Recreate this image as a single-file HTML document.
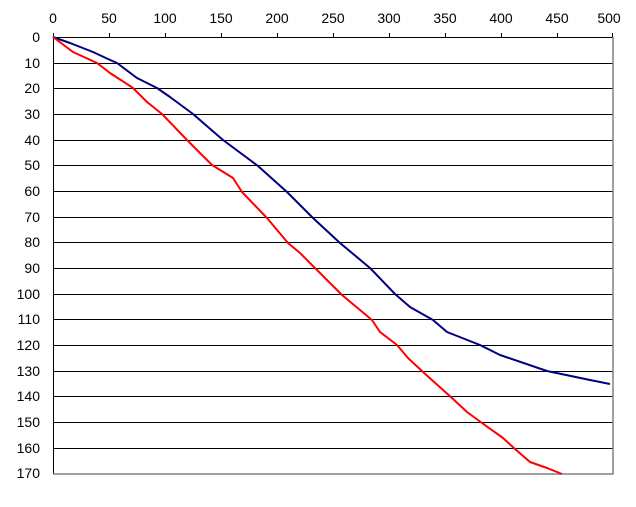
<!DOCTYPE html>
<html><head><style>body{margin:0;background:#fff}</style></head><body>
<svg width="636" height="502" xmlns="http://www.w3.org/2000/svg" font-family="Liberation Sans, Arial, sans-serif" font-size="14">
<rect width="636" height="502" fill="#fff"/>
<g stroke="#000" stroke-width="1">
<line x1="53" y1="37.5" x2="613" y2="37.5"/>
<line x1="53" y1="63.5" x2="613" y2="63.5"/>
<line x1="53" y1="88.5" x2="613" y2="88.5"/>
<line x1="53" y1="114.5" x2="613" y2="114.5"/>
<line x1="53" y1="140.5" x2="613" y2="140.5"/>
<line x1="53" y1="165.5" x2="613" y2="165.5"/>
<line x1="53" y1="191.5" x2="613" y2="191.5"/>
<line x1="53" y1="217.5" x2="613" y2="217.5"/>
<line x1="53" y1="242.5" x2="613" y2="242.5"/>
<line x1="53" y1="268.5" x2="613" y2="268.5"/>
<line x1="53" y1="294.5" x2="613" y2="294.5"/>
<line x1="53" y1="319.5" x2="613" y2="319.5"/>
<line x1="53" y1="345.5" x2="613" y2="345.5"/>
<line x1="53" y1="371.5" x2="613" y2="371.5"/>
<line x1="53" y1="396.5" x2="613" y2="396.5"/>
<line x1="53" y1="422.5" x2="613" y2="422.5"/>
<line x1="53" y1="448.5" x2="613" y2="448.5"/>
<line x1="53.5" y1="33" x2="53.5" y2="474"/>
</g>
<g stroke="#000">
<line x1="109.5" y1="33" x2="109.5" y2="37"/><line x1="165.5" y1="33" x2="165.5" y2="37"/><line x1="221.5" y1="33" x2="221.5" y2="37"/><line x1="277.5" y1="33" x2="277.5" y2="37"/><line x1="333.5" y1="33" x2="333.5" y2="37"/><line x1="389.5" y1="33" x2="389.5" y2="37"/><line x1="445.5" y1="33" x2="445.5" y2="37"/><line x1="501.5" y1="33" x2="501.5" y2="37"/><line x1="557.5" y1="33" x2="557.5" y2="37"/><line x1="612.5" y1="33" x2="612.5" y2="37"/>
</g>
<polyline points="53,474 613,474 613,37" fill="none" stroke="#808080" stroke-width="1.5"/>
<g text-anchor="middle">
<text x="53" y="23">0</text><text x="109" y="23">50</text><text x="165" y="23">100</text><text x="221" y="23">150</text><text x="277" y="23">200</text><text x="333" y="23">250</text><text x="389" y="23">300</text><text x="445" y="23">350</text><text x="501" y="23">400</text><text x="557" y="23">450</text><text x="609" y="23">500</text>
</g>
<g text-anchor="end">
<text x="40" y="42">0</text><text x="40" y="68">10</text><text x="40" y="93">20</text><text x="40" y="119">30</text><text x="40" y="145">40</text><text x="40" y="170">50</text><text x="40" y="196">60</text><text x="40" y="222">70</text><text x="40" y="247">80</text><text x="40" y="273">90</text><text x="40" y="299">100</text><text x="40" y="324">110</text><text x="40" y="350">120</text><text x="40" y="376">130</text><text x="40" y="401">140</text><text x="40" y="427">150</text><text x="40" y="453">160</text><text x="40" y="478">170</text>
</g>
<polyline fill="none" stroke="#000080" stroke-width="2" stroke-linejoin="round" points="53,37 70,43 93,52 108,59 117,63 137,78 157,88 170,97 193,114 223,140 258,166 287,192 313,218 340,243 370,268 395,294 410,307 433,320 447,332 480,345 500,355 547,371 590,380 610,384"/>
<polyline fill="none" stroke="#ff0000" stroke-width="2" stroke-linejoin="round" points="53,37 73,52 97,63 110,73 133,88 147,102 162,114 187,140 212,165 233,178 242,192 267,218 288,243 300,253 342,295 372,320 380,332 397,345 408,358 423,372 452,398 467,412 482,423 503,438 515,449 530,462 547,468 562,474"/>
</svg>
</body></html>
